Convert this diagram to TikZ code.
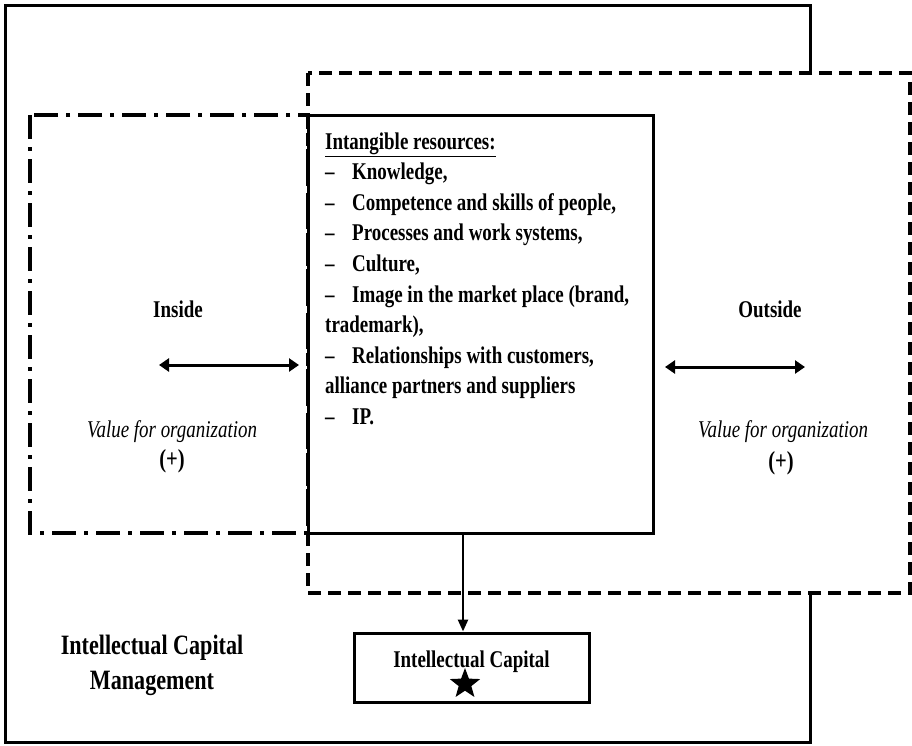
\documentclass[tikz,border=0pt]{standalone}
\usepackage{fontspec}
\setmainfont{Liberation Serif}[FakeStretch=0.79]
\usetikzlibrary{arrows.meta,shapes.geometric}

\tikzset{
  txt/.style={font=\fontsize{24}{28}\selectfont\bfseries, inner sep=0pt},
  valtxt/.style={font=\fontsize{24}{28}\selectfont\itshape, inner sep=0pt},
  solidbox/.style={draw, line width=3pt},
  dbl/.style={line width=3pt, {Triangle[length=10pt,width=13pt]}-{Triangle[length=10pt,width=13pt]}},
}
\newcommand{\itm}{\makebox[27pt][l]{--}}

\begin{document}
\begin{tikzpicture}[x=1pt,y=-1pt]
  \useasboundingbox (0,0) rectangle (912,745);
  % outer frame: management
  \draw[line width=3pt] (5,5) rectangle (810,742);
  % outside region
  \draw[fill=white, line width=4.5pt, dash pattern=on 13pt off 7pt] (308,73) rectangle (910,593);
  % inside region
  \draw[line width=4pt, dash pattern=on 24pt off 8pt on 4pt off 8pt] (30,115) rectangle (308,533);

  % intangible resources
  \node[solidbox, minimum width=345pt, minimum height=418pt] (res) at (480.5,324) {};
  \foreach \line [count=\i from 0] in {{\underline{Intangible resources:}}, {\itm Knowledge,},
      {\itm Competence and skills of people,}, {\itm Processes and work systems,}, {\itm Culture,},
      {\itm Image in the market place (brand,}, {trademark),}, {\itm Relationships with customers,},
      {alliance partners and suppliers}, {\itm IP.}}
    \node[txt, anchor=base west] (res\i) at (325,149+30.6*\i) {\line};

  % inside / outside
  \node[txt] (inside) at (178,309) {Inside};
  \node[txt] (outside) at (770,309) {Outside};
  \coordinate (inl) at (159,365);
  \coordinate (inr) at (299,365);
  \draw[dbl] (inl) -- (inr);
  \coordinate (outl) at (665,367);
  \coordinate (outr) at (805,367);
  \draw[dbl] (outl) -- (outr);
  \node[valtxt] (inval) at (172,432) {Value for organization};
  \node[txt, font=\fontsize{26}{30}\selectfont\bfseries] (inplus) at (172,461) {(+)};
  \node[valtxt] (outval) at (783,432) {Value for organization};
  \node[txt, font=\fontsize{26}{30}\selectfont\bfseries] (outplus) at (781,463) {(+)};

  % result
  \node[solidbox, txt, minimum width=235pt, minimum height=69pt,
        text height=12pt, text depth=12pt] (cap) at (471.5,667.5) {Intellectual Capital};
  \node[star, star points=5, star point ratio=2.4, minimum size=32pt, inner sep=0pt, fill=black] (mark) at (465,684) {};
  \coordinate (link) at (463,0);
  \draw[line width=2.5pt, -{Triangle[length=12pt,width=10pt]}] (res.south -| link) -- (cap.north -| link);

  \node[txt, font=\fontsize{28}{35}\selectfont\bfseries, align=center] (icm) at (152,665) {Intellectual Capital\\Management};
\end{tikzpicture}
\end{document}
